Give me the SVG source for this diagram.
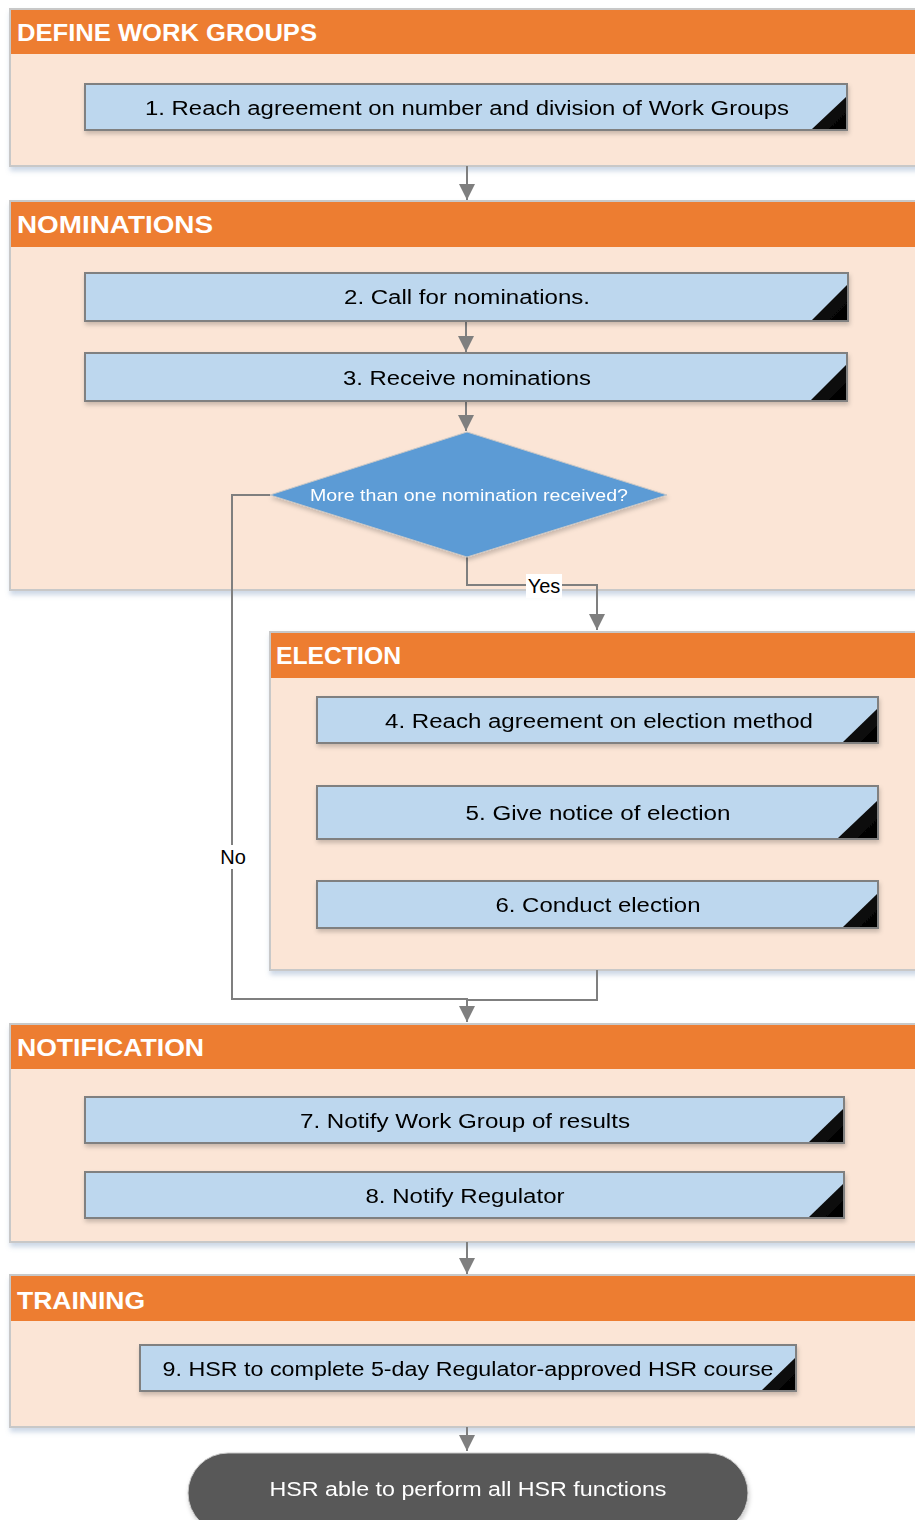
<svg xmlns="http://www.w3.org/2000/svg" width="915" height="1520" viewBox="0 0 915 1520">
<defs>
<style>
.sec{fill:#FBE5D6;stroke:#C8C8C8;stroke-width:2}
.hdr{fill:#ED7D31}
.ht{font-family:"Liberation Sans",Arial,sans-serif;font-weight:bold;font-size:24px;fill:#fff}
.box{fill:#BDD7EE;stroke:#808080;stroke-width:2}
.bt{font-family:"Liberation Sans",Arial,sans-serif;font-size:20px;fill:#000;text-anchor:middle}
.con{fill:none;stroke:#7F7F7F;stroke-width:2}
.lbl{font-family:"Liberation Sans",Arial,sans-serif;font-size:20px;fill:#000;text-anchor:middle}
</style>
<linearGradient id="tri" x1="0" y1="0" x2="1" y2="1">
<stop offset="0" stop-color="#777"/>
<stop offset="0.35" stop-color="#111"/>
<stop offset="1" stop-color="#000"/>
</linearGradient>
<filter id="sh" x="-5%" y="-20%" width="110%" height="160%">
<feGaussianBlur in="SourceAlpha" stdDeviation="2.5"/>
<feOffset dx="1" dy="4" result="b"/>
<feFlood flood-color="#6f8fb8" flood-opacity="0.35"/>
<feComposite in2="b" operator="in"/>
<feMerge><feMergeNode/><feMergeNode in="SourceGraphic"/></feMerge>
</filter>
<filter id="bs" x="-5%" y="-20%" width="110%" height="160%">
<feGaussianBlur in="SourceAlpha" stdDeviation="2"/>
<feOffset dx="1" dy="3" result="b"/>
<feFlood flood-color="#000" flood-opacity="0.2"/>
<feComposite in2="b" operator="in"/>
<feMerge><feMergeNode/><feMergeNode in="SourceGraphic"/></feMerge>
</filter>
<marker id="ah" markerWidth="18" markerHeight="18" refX="16" refY="9" orient="auto" markerUnits="userSpaceOnUse" viewBox="0 0 18 18">
<path d="M0,1 L16,9 L0,17 Z" fill="#7F7F7F"/>
</marker>
</defs>
<rect width="915" height="1520" fill="#fff"/>

<g id="sec-define">
<rect class="sec" x="10" y="9" width="915" height="157" filter="url(#sh)"/>
<rect class="hdr" x="11" y="10" width="914" height="44"/>
<text class="ht" x="17" y="41" textLength="300" lengthAdjust="spacingAndGlyphs">DEFINE WORK GROUPS</text>
</g>

<g id="sec-nominations">
<rect class="sec" x="10" y="201" width="915" height="389" filter="url(#sh)"/>
<rect class="hdr" x="11" y="202" width="914" height="45"/>
<text class="ht" x="17" y="233" textLength="196" lengthAdjust="spacingAndGlyphs">NOMINATIONS</text>
</g>

<g id="sec-election">
<rect class="sec" x="270" y="632" width="655" height="338" filter="url(#sh)"/>
<rect class="hdr" x="271" y="633" width="654" height="45"/>
<text class="ht" x="276" y="664" textLength="125" lengthAdjust="spacingAndGlyphs">ELECTION</text>
</g>

<g id="sec-notification">
<rect class="sec" x="10" y="1024" width="915" height="218" filter="url(#sh)"/>
<rect class="hdr" x="11" y="1025" width="914" height="44"/>
<text class="ht" x="17" y="1056" textLength="187" lengthAdjust="spacingAndGlyphs">NOTIFICATION</text>
</g>

<g id="sec-training">
<rect class="sec" x="10" y="1275" width="915" height="152" filter="url(#sh)"/>
<rect class="hdr" x="11" y="1276" width="914" height="45"/>
<text class="ht" x="17" y="1309" textLength="128" lengthAdjust="spacingAndGlyphs">TRAINING</text>
</g>

<g id="connectors">
<line class="con" x1="467" y1="166" x2="467" y2="200" marker-end="url(#ah)"/>
<line class="con" x1="466" y1="321" x2="466" y2="352" marker-end="url(#ah)"/>
<line class="con" x1="466" y1="401" x2="466" y2="431" marker-end="url(#ah)"/>
<polyline class="con" points="467,557 467,585 597,585 597,630" marker-end="url(#ah)"/>
<polyline class="con" points="270,495 232,495 232,999 467,999 467,1022" marker-end="url(#ah)"/>
<polyline class="con" points="597,970 597,1000 467,1000"/>
<line class="con" x1="467" y1="1242" x2="467" y2="1274" marker-end="url(#ah)"/>
<line class="con" x1="467" y1="1427" x2="467" y2="1451" marker-end="url(#ah)"/>
<rect x="526" y="574" width="36" height="24" fill="#fff"/>
<text class="lbl" x="544" y="593">Yes</text>
<rect x="216" y="845" width="34" height="24" fill="#fff"/>
<text class="lbl" x="233" y="864">No</text>
</g>

<g id="n1" filter="url(#bs)">
<rect class="box" x="85" y="84" width="762" height="46"/>
<path d="M846,97 L846,129 L812,129 Z" fill="url(#tri)"/>
<text class="bt" x="467" y="115" textLength="644" lengthAdjust="spacingAndGlyphs">1. Reach agreement on number and division of Work Groups</text>
</g>

<g id="n2" filter="url(#bs)">
<rect class="box" x="85" y="273" width="763" height="48"/>
<path d="M847,285 L847,320 L812,320 Z" fill="url(#tri)"/>
<text class="bt" x="467" y="304" textLength="246" lengthAdjust="spacingAndGlyphs">2. Call for nominations.</text>
</g>

<g id="n3" filter="url(#bs)">
<rect class="box" x="85" y="353" width="762" height="48"/>
<path d="M846,365 L846,400 L811,400 Z" fill="url(#tri)"/>
<text class="bt" x="467" y="385" textLength="248" lengthAdjust="spacingAndGlyphs">3. Receive nominations</text>
</g>

<g id="decision" filter="url(#bs)">
<polygon points="467,432 667,495 467,557 270,495" fill="#5B9BD5" stroke="#c6c6c6" stroke-width="1"/>
<text x="469" y="501" font-family="'Liberation Sans',Arial,sans-serif" font-size="17" fill="#fff" text-anchor="middle" textLength="318" lengthAdjust="spacingAndGlyphs">More than one nomination received?</text>
</g>

<g id="n4" filter="url(#bs)">
<rect class="box" x="317" y="697" width="561" height="46"/>
<path d="M877,709 L877,742 L843,742 Z" fill="url(#tri)"/>
<text class="bt" x="599" y="728" textLength="428" lengthAdjust="spacingAndGlyphs">4. Reach agreement on election method</text>
</g>

<g id="n5" filter="url(#bs)">
<rect class="box" x="317" y="786" width="561" height="53"/>
<path d="M877,801 L877,838 L838,838 Z" fill="url(#tri)"/>
<text class="bt" x="598" y="820" textLength="265" lengthAdjust="spacingAndGlyphs">5. Give notice of election</text>
</g>

<g id="n6" filter="url(#bs)">
<rect class="box" x="317" y="881" width="561" height="47"/>
<path d="M877,894 L877,927 L843,927 Z" fill="url(#tri)"/>
<text class="bt" x="598" y="912" textLength="205" lengthAdjust="spacingAndGlyphs">6. Conduct election</text>
</g>

<g id="n7" filter="url(#bs)">
<rect class="box" x="85" y="1097" width="759" height="46"/>
<path d="M843,1109 L843,1142 L809,1142 Z" fill="url(#tri)"/>
<text class="bt" x="465" y="1128" textLength="330" lengthAdjust="spacingAndGlyphs">7. Notify Work Group of results</text>
</g>

<g id="n8" filter="url(#bs)">
<rect class="box" x="85" y="1172" width="759" height="46"/>
<path d="M843,1184 L843,1217 L809,1217 Z" fill="url(#tri)"/>
<text class="bt" x="465" y="1203" textLength="199" lengthAdjust="spacingAndGlyphs">8. Notify Regulator</text>
</g>

<g id="n9" filter="url(#bs)">
<rect class="box" x="140" y="1345" width="656" height="46"/>
<path d="M795,1358 L795,1390 L762,1390 Z" fill="url(#tri)"/>
<text class="bt" x="468" y="1376" textLength="611" lengthAdjust="spacingAndGlyphs">9. HSR to complete 5-day Regulator-approved HSR course</text>
</g>

<g id="end" filter="url(#bs)">
<rect x="188" y="1453" width="560" height="80" rx="40" fill="#595959" stroke="#c8c8c8" stroke-width="1"/>
<text x="468" y="1496" font-family="'Liberation Sans',Arial,sans-serif" font-size="20" fill="#fff" text-anchor="middle" textLength="397" lengthAdjust="spacingAndGlyphs">HSR able to perform all HSR functions</text>
</g>
</svg>
